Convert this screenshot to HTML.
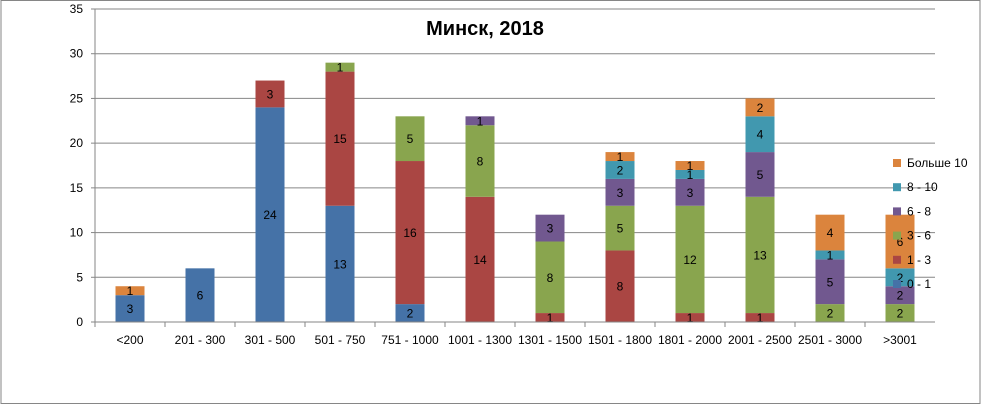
<!DOCTYPE html>
<html><head><meta charset="utf-8"><style>
html,body{margin:0;padding:0;background:#fff;}
svg{display:block;font-family:"Liberation Sans",sans-serif;}
</style></head><body>
<svg id="chart" width="983" height="406">
<rect x="1" y="0.5" width="979" height="403" fill="#fff" stroke="#868686"/>
<text x="485" y="35" text-anchor="middle" font-size="20" font-weight="bold" fill="#000">Минск, 2018</text>
<g id="grid"></g><g id="bars"></g><g id="axes"></g><g id="legend"></g>
</svg>
<script>
const categories=["<200","201 - 300","301 - 500","501 - 750","751 - 1000","1001 - 1300","1301 - 1500","1501 - 1800","1801 - 2000","2001 - 2500","2501 - 3000",">3001"];
const seriesNames=["0 - 1","1 - 3","3 - 6","6 - 8","8 - 10","Больше 10"];
const s01=[3,6,24,13,2,0,0,0,0,0,0,0];
const s13=[0,0,3,15,16,14,1,8,1,1,0,0];
const s36=[0,0,0,1,5,8,8,5,12,13,2,2];
const s68=[0,0,0,0,0,1,3,3,3,5,5,2];
const s810=[0,0,0,0,0,0,0,2,1,4,1,2];
const s10=[1,0,0,0,0,0,0,1,1,2,4,6];
const yTicks=[0,5,10,15,20,25,30,35];
const colors=["#4572a7","#aa4643","#89a54e","#71588f","#4198af","#db843d"];
const series=[s01,s13,s36,s68,s810,s10];
const NS="http://www.w3.org/2000/svg";
const x0=95,x1=935,yB=322,yT=9,yMax=35;
const bw=(x1-x0)/categories.length;
const y=v=>yB-(v/yMax)*(yB-yT);
const xc=i=>x0+bw*(i+0.5);
function mk(tag,attrs,parent){const e=document.createElementNS(NS,tag);for(const k in attrs)e.setAttribute(k,attrs[k]);parent.appendChild(e);return e;}
const grid=document.getElementById('grid'),bars=document.getElementById('bars'),axes=document.getElementById('axes'),leg=document.getElementById('legend');
yTicks.forEach(t=>{
  if(t>0){const l=mk('line',{x1:x0,x2:x1,y1:y(t),y2:y(t),stroke:'#868686','stroke-width':1},grid);
  
  }
  const tx=mk('text',{x:83,y:y(t)+4,'text-anchor':'end','font-size':12,fill:'#000'},axes);tx.textContent=t;
  
  
  const tk=mk('line',{x1:x0-4,x2:x0,y1:y(t),y2:y(t),stroke:'#868686'},axes);
  
  
});
const ya=mk('line',{x1:x0,x2:x0,y1:yT,y2:yB,stroke:'#868686'},axes);


const xa=mk('line',{x1:x0,x2:x1,y1:yB,y2:yB,stroke:'#868686'},axes);


categories.forEach((c,i)=>{
  const tk=mk('line',{x1:x0+bw*i,x2:x0+bw*i,y1:yB,y2:yB+5,stroke:'#868686'},axes);
  
  
  const tx=mk('text',{x:xc(i),y:344,'text-anchor':'middle','font-size':12,fill:'#000'},axes);tx.textContent=c;
  
  
  let acc=0;
  series.forEach((s,k)=>{
    const v=s[i];if(!v)return;
    const top=y(acc+v),bot=y(acc);
    const r=mk('rect',{x:xc(i)-14.5,y:top,width:29,height:bot-top,fill:colors[k]},bars);
    
    
    const lb=mk('text',{x:xc(i),y:(top+bot)/2+4.5,'text-anchor':'middle','font-size':12,fill:'#000'},bars);lb.textContent=v;
    
    
    acc+=v;
  });
});
for(let k=seriesNames.length-1;k>=0;k--){
  const ly=163+(5-k)*24.2;
  const r=mk('rect',{x:893,y:ly-4,width:8,height:8,fill:colors[k]},leg);
  
  
  const t=mk('text',{x:907,y:ly+4,'font-size':12,fill:'#000'},leg);t.textContent=seriesNames[k];
  
  
}
</script>
</body></html>
